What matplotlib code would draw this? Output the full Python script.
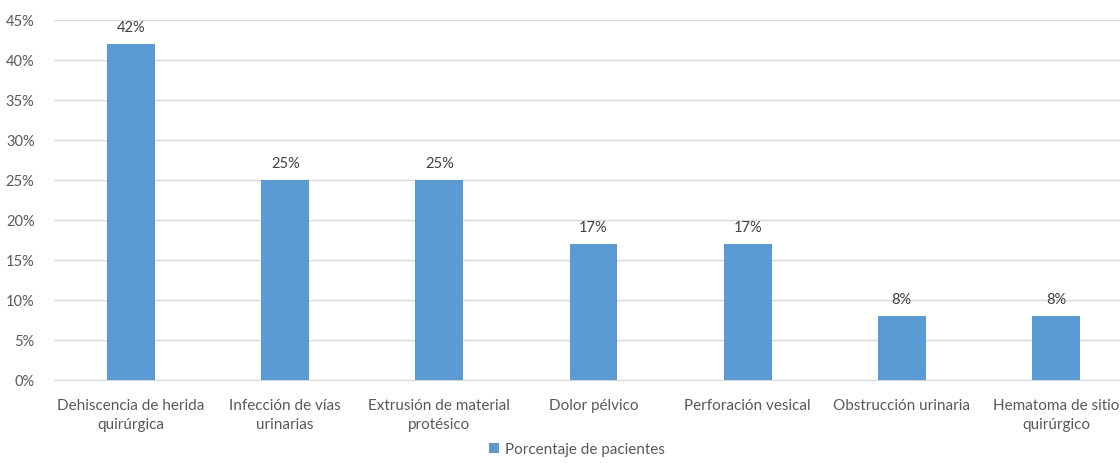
import matplotlib
matplotlib.use("Agg")
import matplotlib.pyplot as plt
from matplotlib.ticker import PercentFormatter

categories = ["Dehiscencia de herida\nquirúrgica", "Infección de vías\nurinarias",
              "Extrusión de material\nprotésico", "Dolor pélvico", "Perforación vesical",
              "Obstrucción urinaria", "Hematoma de sitio\nquirúrgico"]
values = [42, 25, 25, 17, 17, 8, 8]
series_name = "Porcentaje de pacientes"

plt.rcParams['font.family'] = ['Lato', 'DejaVu Sans']

fig = plt.figure(figsize=(11.2, 4.64), dpi=100)
ax = fig.add_axes([54 / 1120, 83 / 464, 1079 / 1120, 360 / 464])

x = list(range(len(categories)))
bars = ax.bar(x, values, width=0.31, color="#5B9BD5", label=series_name, zorder=3)

for b, v in zip(bars, values):
    ax.text(b.get_x() + b.get_width() / 2, v + 1.2, "%d%%" % v,
            ha="center", va="bottom", fontsize=10.5, color="#404040")

ax.set_xlim(-0.5, len(categories) - 0.5)
ax.set_ylim(0, 45)
ax.set_yticks(range(0, 46, 5))
ax.yaxis.set_major_formatter(PercentFormatter(decimals=0))
ax.grid(axis="y", color="#D9D9D9", linewidth=1, zorder=0)

ax.set_xticks(x)
ax.set_xticklabels(categories, fontsize=11, color="#595959", linespacing=1.45)
ax.tick_params(axis="y", labelsize=10.5, labelcolor="#595959", length=0, pad=14)
ax.tick_params(axis="x", length=0, pad=13)

for s in ["top", "right", "left"]:
    ax.spines[s].set_visible(False)
ax.spines["bottom"].set_color("#D9D9D9")

fig.legend(loc="lower center", bbox_to_anchor=(577 / 1120, -0.012), frameon=False,
           fontsize=11, labelcolor="#595959", handlelength=0.6, handleheight=0.6,
           handletextpad=0.4, borderpad=0.3)

fig.savefig("out.png", dpi=100)
